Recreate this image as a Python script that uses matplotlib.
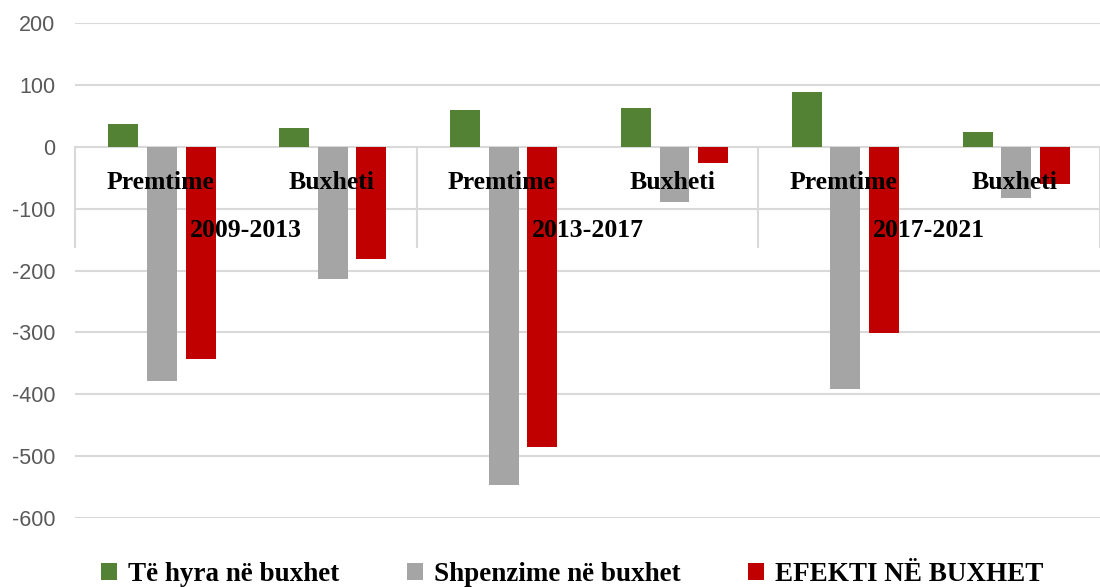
import numpy as np
import matplotlib.pyplot as plt

plt.rcParams["axes.unicode_minus"] = False

categories = ["Premtime", "Buxheti"] * 3
periods = ["2009-2013", "2013-2017", "2017-2021"]
te_hyra = [37, 31, 60, 63, 89, 24]
shpenzime = [-379, -214, -547, -89, -392, -82]
efekti = [-343, -181, -485, -27, -301, -60]
series_names = ["Të hyra në buxhet", "Shpenzime në buxhet", "EFEKTI NË BUXHET"]
colors = ["#548235", "#A5A5A5", "#C00000"]

serif = ["Liberation Serif", "DejaVu Serif"]
grid_c = "#D9D9D9"

fig = plt.figure(figsize=(11, 5.87), dpi=100)
ax = fig.add_axes([0.068, 0.1175, 0.932, 0.8433])

x = np.arange(len(categories))
w = 0.175
off = 0.226
bars = []
for i, (vals, c) in enumerate(zip([te_hyra, shpenzime, efekti], colors)):
    bars.append(ax.bar(x + 0.01 + (i - 1) * off, vals, width=w, color=c, zorder=2))

ax.set_xlim(-0.5, len(categories) - 0.5)
ax.set_ylim(-600, 200)
ax.set_yticks(np.arange(-600, 201, 100))
ax.grid(axis="y", color=grid_c, lw=1.5, zorder=0)
ax.set_xticks([])
for s in ax.spines.values():
    s.set_visible(False)
ax.tick_params(axis="y", length=0, labelsize=15.5, labelcolor="#595959", pad=14)
for lbl in ax.get_yticklabels():
    lbl.set_family(["Liberation Sans", "DejaVu Sans"])

# multi-level category axis under the zero line
for b in np.arange(-0.5, len(categories), 2):
    ax.plot([b, b], [0, -162], color=grid_c, lw=1.5, zorder=1, clip_on=False)
for xi, cat in zip(x, categories):
    ax.text(xi, -58, cat, ha="center", va="center", fontsize=18.5,
            fontweight="bold", family=serif, zorder=5)
for j, p in enumerate(periods):
    ax.text(2 * j + 0.5, -136, p, ha="center", va="center", fontsize=18.5,
            fontweight="bold", family=serif, zorder=5)

fig.legend([b[0] for b in bars], series_names, loc="lower center",
           bbox_to_anchor=(0.52, -0.042), ncol=3, frameon=False,
           handlelength=0.6, handleheight=0.6, columnspacing=2.5,
           handletextpad=0.4, prop={"family": serif, "weight": "bold", "size": 19.5})

fig.savefig("out.png", dpi=100)
